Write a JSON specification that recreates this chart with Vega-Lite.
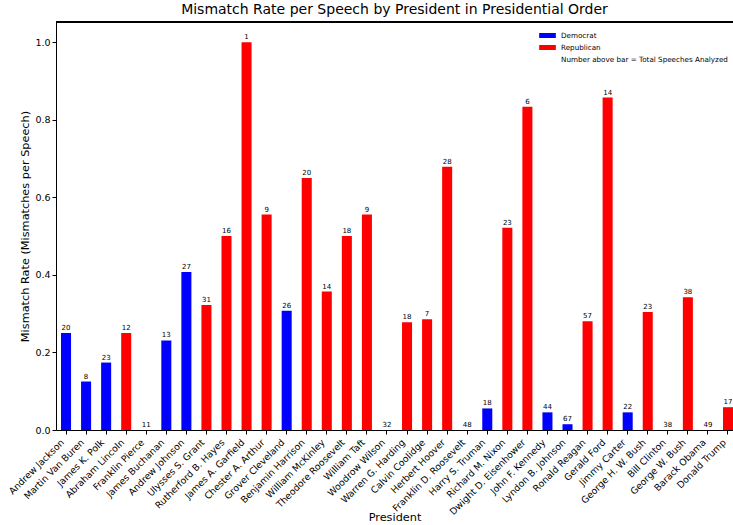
{
  "$schema": "https://vega.github.io/schema/vega-lite/v6.json",
  "width": 677,
  "height": 408,
  "autosize": {"type": "none"},
  "padding": {"left": 56, "top": 22, "right": 0, "bottom": 95},
  "title": {"text": "Mismatch Rate per Speech by President in Presidential Order", "font": "DejaVu Sans", "fontSize": 14, "fontWeight": "normal", "color": "#000", "offset": 5},
  "config": {
    "font": "DejaVu Sans",
    "view": {"stroke": null},
    "axis": {"labelFont": "DejaVu Sans", "titleFont": "DejaVu Sans", "labelColor": "#000", "titleColor": "#000", "tickColor": "#000", "domainColor": "#000", "grid": false, "titleFontWeight": "normal"}
  },
  "data": {"values": [
    {"president": "Andrew Jackson", "party": "Democrat", "rate": 0.25, "speeches": 20},
    {"president": "Martin Van Buren", "party": "Democrat", "rate": 0.125, "speeches": 8},
    {"president": "James K. Polk", "party": "Democrat", "rate": 0.1739, "speeches": 23},
    {"president": "Abraham Lincoln", "party": "Republican", "rate": 0.25, "speeches": 12},
    {"president": "Franklin Pierce", "party": "Democrat", "rate": 0, "speeches": 11},
    {"president": "James Buchanan", "party": "Democrat", "rate": 0.2308, "speeches": 13},
    {"president": "Andrew Johnson", "party": "Democrat", "rate": 0.4074, "speeches": 27},
    {"president": "Ulysses S. Grant", "party": "Republican", "rate": 0.3226, "speeches": 31},
    {"president": "Rutherford B. Hayes", "party": "Republican", "rate": 0.5, "speeches": 16},
    {"president": "James A. Garfield", "party": "Republican", "rate": 1.0, "speeches": 1},
    {"president": "Chester A. Arthur", "party": "Republican", "rate": 0.5556, "speeches": 9},
    {"president": "Grover Cleveland", "party": "Democrat", "rate": 0.3077, "speeches": 26},
    {"president": "Benjamin Harrison", "party": "Republican", "rate": 0.65, "speeches": 20},
    {"president": "William McKinley", "party": "Republican", "rate": 0.3571, "speeches": 14},
    {"president": "Theodore Roosevelt", "party": "Republican", "rate": 0.5, "speeches": 18},
    {"president": "William Taft", "party": "Republican", "rate": 0.5556, "speeches": 9},
    {"president": "Woodrow Wilson", "party": "Democrat", "rate": 0, "speeches": 32},
    {"president": "Warren G. Harding", "party": "Republican", "rate": 0.2778, "speeches": 18},
    {"president": "Calvin Coolidge", "party": "Republican", "rate": 0.2857, "speeches": 7},
    {"president": "Herbert Hoover", "party": "Republican", "rate": 0.6786, "speeches": 28},
    {"president": "Franklin D. Roosevelt", "party": "Democrat", "rate": 0, "speeches": 48},
    {"president": "Harry S. Truman", "party": "Democrat", "rate": 0.0556, "speeches": 18},
    {"president": "Richard M. Nixon", "party": "Republican", "rate": 0.5217, "speeches": 23},
    {"president": "Dwight D. Eisenhower", "party": "Republican", "rate": 0.8333, "speeches": 6},
    {"president": "John F. Kennedy", "party": "Democrat", "rate": 0.0455, "speeches": 44},
    {"president": "Lyndon B. Johnson", "party": "Democrat", "rate": 0.0149, "speeches": 67},
    {"president": "Ronald Reagan", "party": "Republican", "rate": 0.2807, "speeches": 57},
    {"president": "Gerald Ford", "party": "Republican", "rate": 0.8571, "speeches": 14},
    {"president": "Jimmy Carter", "party": "Democrat", "rate": 0.0455, "speeches": 22},
    {"president": "George H. W. Bush", "party": "Republican", "rate": 0.3043, "speeches": 23},
    {"president": "Bill Clinton", "party": "Democrat", "rate": 0, "speeches": 38},
    {"president": "George W. Bush", "party": "Republican", "rate": 0.3421, "speeches": 38},
    {"president": "Barack Obama", "party": "Democrat", "rate": 0, "speeches": 49},
    {"president": "Donald Trump", "party": "Republican", "rate": 0.0588, "speeches": 17}
  ]},
  "layer": [
    {"mark": {"type": "bar"},
      "encoding": {
        "x": {"field": "president", "type": "nominal", "sort": null,
          "scale": {"paddingInner": 0.5, "paddingOuter": 0.125, "align": 1},
          "axis": {"title": "President", "titleFontSize": 11.3, "labelAngle": -45, "labelAlign": "right", "labelBaseline": "bottom", "labelFontSize": 9.3, "tickSize": 4, "labelPadding": 10, "titleY": 81, "titleBaseline": "top"}},
        "y": {"field": "rate", "type": "quantitative",
          "scale": {"domain": [0, 1.052], "nice": false},
          "axis": {"title": "Mismatch Rate (Mismatches per Speech)", "titleFontSize": 11.3, "values": [0, 0.2, 0.4, 0.6, 0.8, 1.0], "format": ".1f", "labelFontSize": 9.5, "tickSize": 4, "labelPadding": 2, "titlePadding": 4}},
        "color": {"field": "party", "type": "nominal",
        "scale": {"domain": ["Democrat", "Republican", "Number above bar = Total Speeches Analyzed"], "range": ["#0000ff", "#ff0000", "rgba(0,0,0,0)"]},
        "legend": {"title": null, "orient": "none", "legendX": 483, "legendY": 5, "symbolType": "M-1,-0.3H1V0.3H-1Z", "symbolSize": 279, "labelFontSize": 7.2, "labelFont": "DejaVu Sans", "labelColor": "#000", "labelLimit": 400, "rowPadding": -5, "symbolStrokeWidth": 0, "labelOffset": 5}}}},
    {"mark": {"type": "text", "baseline": "bottom", "dy": -2, "fontSize": 7, "color": "#000"},
      "encoding": {
        "x": {"field": "president", "type": "nominal", "sort": null},
        "y": {"field": "rate", "type": "quantitative"},
        "text": {"field": "speeches", "type": "quantitative"}}},
    {"mark": {"type": "rule", "color": "#000", "strokeWidth": 1},
      "encoding": {"y": {"datum": 1.052}}}
  ]
}
